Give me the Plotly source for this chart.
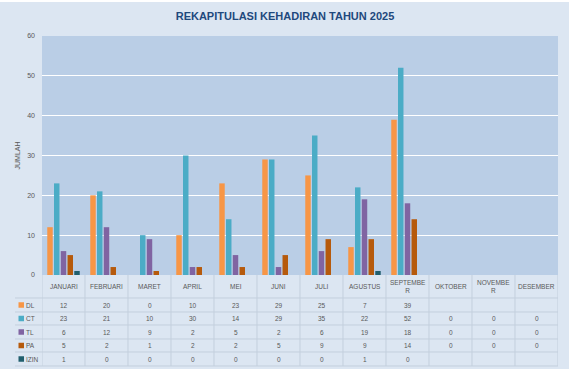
import plotly.graph_objects as go

months = ["JANUARI", "FEBRUARI", "MARET", "APRIL", "MEI", "JUNI", "JULI",
          "AGUSTUS", "SEPTEMBER", "OKTOBER", "NOVEMBER", "DESEMBER"]
header_labels = ["JANUARI", "FEBRUARI", "MARET", "APRIL", "MEI", "JUNI", "JULI",
                 "AGUSTUS", "SEPTEMBE<br>R", "OKTOBER", "NOVEMBE<br>R", "DESEMBER"]

DL = [12, 20, 0, 10, 23, 29, 25, 7, 39, None, None, None]
CT = [23, 21, 10, 30, 14, 29, 35, 22, 52, 0, 0, 0]
TL = [6, 12, 9, 2, 5, 2, 6, 19, 18, 0, 0, 0]
PA = [5, 2, 1, 2, 2, 5, 9, 9, 14, 0, 0, 0]
IZIN = [1, 0, 0, 0, 0, 0, 0, 1, 0, None, None, None]

series_names = ["DL", "CT", "TL", "PA", "IZIN"]
series_values = [DL, CT, TL, PA, IZIN]
series_colors = ["#F79646", "#4BACC6", "#8064A2", "#B65A0C", "#215F6E"]

W, H = 572, 372
L, R, T, B = 42, 14, 36, 97
PW = W - L - R
PH = H - T - B


def px_x(p):
    return (p - L) / PW


def px_y(p):
    return (H - B - p) / PH


FONT = "Liberation Sans"
GRAY = "#595959"
LINE = "#C3CFDD"

fig = go.Figure()
for name, vals, col in zip(series_names, series_values, series_colors):
    fig.add_trace(go.Bar(x=months, y=vals, name=name, marker_color=col,
                         marker_line_width=0, showlegend=False, hoverinfo="skip"))

shapes = []
annotations = []

# table horizontal lines
row_lines = [298, 312, 325, 339, 352, 366]
for ry in row_lines:
    shapes.append(dict(type="line", xref="paper", yref="paper",
                       x0=px_x(15), x1=1, y0=px_y(ry), y1=px_y(ry),
                       line=dict(color=LINE, width=1)))
# table vertical lines
for i in range(len(months) + 1):
    shapes.append(dict(type="line", xref="x", yref="paper",
                       x0=i - 0.5, x1=i - 0.5, y0=0, y1=px_y(366),
                       line=dict(color=LINE, width=1)))

cell_font = dict(family=FONT, size=6.5, color=GRAY)

# header labels
for i, lab in enumerate(header_labels):
    annotations.append(dict(x=months[i], xref="x", y=px_y(286.5), yref="paper",
                            text=lab, showarrow=False, xanchor="center",
                            yanchor="middle", font=cell_font))

row_centers = [305, 318.5, 332, 345.5, 359]
for name, vals, col, rc in zip(series_names, series_values, series_colors, row_centers):
    shapes.append(dict(type="rect", xref="paper", yref="paper",
                       x0=px_x(18.5), x1=px_x(24), y0=px_y(rc - 2.75), y1=px_y(rc + 2.75),
                       fillcolor=col, line=dict(width=0)))
    annotations.append(dict(x=px_x(24), xref="paper", y=px_y(rc), yref="paper",
                            text=name, showarrow=False, xanchor="left",
                            yanchor="middle", font=cell_font))
    for i, v in enumerate(vals):
        if v is None:
            continue
        annotations.append(dict(x=months[i], xref="x", y=px_y(rc), yref="paper",
                                text=str(v), showarrow=False, xanchor="center",
                                yanchor="middle", font=cell_font))

# axis title
annotations.append(dict(x=px_x(17), xref="paper", y=px_y(155.5), yref="paper",
                        text="JUMLAH", textangle=-90, showarrow=False,
                        xanchor="center", yanchor="middle",
                        font=dict(family=FONT, size=7, color=GRAY)))

# white outside strips (spreadsheet beyond the chart area)
shapes.append(dict(type="rect", xref="paper", yref="paper",
                   x0=px_x(569), x1=px_x(W + 2), y0=px_y(H + 2), y1=px_y(-2),
                   fillcolor="white", line=dict(width=0), layer="above"))
shapes.append(dict(type="rect", xref="paper", yref="paper",
                   x0=px_x(-2), x1=px_x(W + 2), y0=px_y(H + 2), y1=px_y(369),
                   fillcolor="white", line=dict(width=0), layer="above"))
shapes.append(dict(type="rect", xref="paper", yref="paper",
                   x0=px_x(-2), x1=px_x(W + 2), y0=px_y(2), y1=px_y(-2),
                   fillcolor="white", line=dict(width=0), layer="above"))

fig.update_layout(
    width=W, height=H,
    margin=dict(l=L, r=R, t=T, b=B, pad=0),
    paper_bgcolor="#DCE6F2",
    plot_bgcolor="#BACEE6",
    barmode="group",
    bargap=0.215,
    bargroupgap=0.19,
    hovermode=False,
    title=dict(text="<b>REKAPITULASI KEHADIRAN TAHUN 2025</b>",
               x=285 / W, xanchor="center",
               y=1 - 16 / H, yanchor="middle",
               font=dict(family=FONT, size=11, color="#1F497D")),
    xaxis=dict(categoryorder="array", categoryarray=months,
               range=[-0.5, len(months) - 0.5], showticklabels=False,
               showgrid=False, zeroline=False, showline=False, ticks=""),
    yaxis=dict(range=[0, 60], dtick=10, tick0=0, showgrid=True,
               gridcolor="white", gridwidth=1, zeroline=False, showline=False,
               ticks="", ticklabelstandoff=6,
               tickfont=dict(family=FONT, size=7, color=GRAY)),
    shapes=shapes,
    annotations=annotations,
)

fig.write_html("out.html",
               config={"displayModeBar": False, "staticPlot": True},
               post_script="document.body.style.margin='0';document.body.style.overflow='hidden';")
